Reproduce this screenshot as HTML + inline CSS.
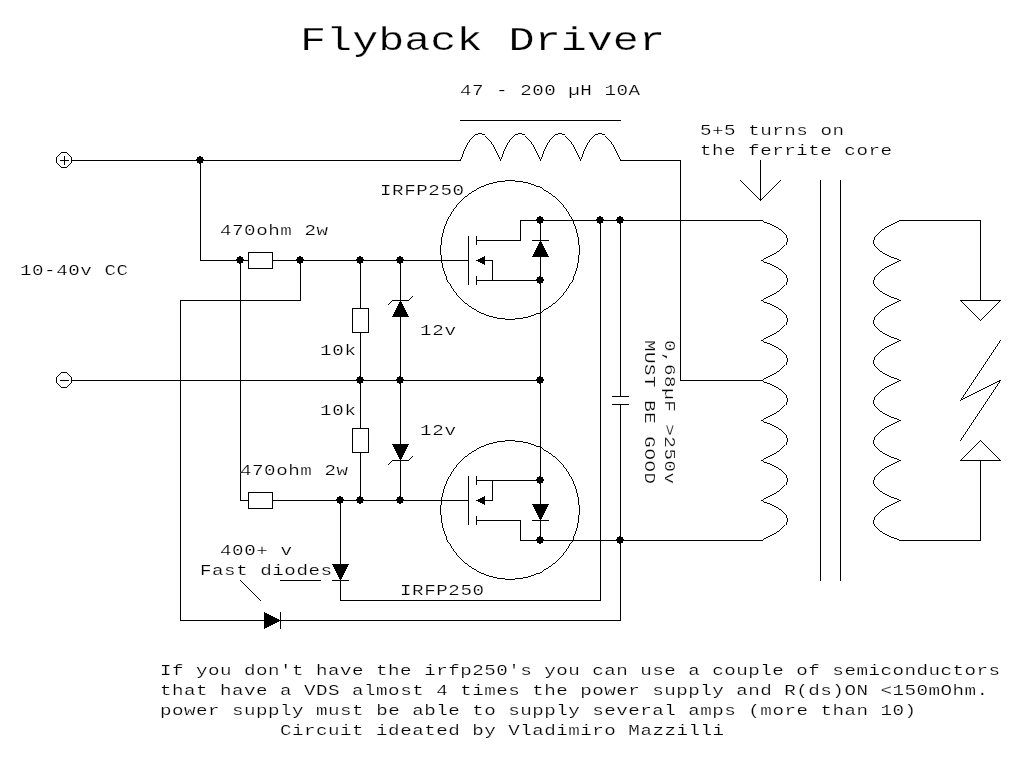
<!DOCTYPE html>
<html lang="en">
<head>
<meta charset="utf-8">
<title>Flyback Driver</title>
<style>
html,body{margin:0;padding:0;background:#fff;}
body{width:1032px;height:760px;overflow:hidden;}
svg{display:block;}
text{font-family:"Liberation Mono","DejaVu Sans Mono",monospace;fill:#000;}
.t{font-size:15.5px;stroke:#fff;stroke-width:0.2px;}
.title{font-size:33px;stroke:#fff;stroke-width:0.25px;}
.w{fill:none;stroke:#000;stroke-width:1;stroke-linecap:square;stroke-linejoin:miter;}
.c{fill:none;stroke:#000;stroke-width:0.99;}
.f{fill:#000;stroke:none;}
</style>
</head>
<body>
<svg width="1032" height="760" viewBox="0 0 1032 760">
<rect width="1032" height="760" fill="#fff"/>

<!-- WIRES -->
<g class="w" shape-rendering="crispEdges" transform="translate(0.5,0.5)">
<!-- top rail -->
<path d="M72 160H460"/>
<path d="M620 160H680V380H760"/>
<path d="M460 120H620"/>
<!-- left drops -->
<path d="M200 160V260H248"/>
<path d="M272 260H468"/>
<path d="M240 260V500H248"/>
<path d="M272 500H468"/>
<path d="M300 260V300H180V620H264"/>
<path d="M280 620H620V404"/>
<path d="M620 396V220"/>
<path d="M612 396H628M612 404H628"/>
<!-- ground rail -->
<path d="M72 380H540"/>
<!-- 10k / zener columns -->
<path d="M360 260V308M360 332V428M360 452V500"/>
<path d="M400 260V500"/>
<!-- fast diode 1 branch -->
<path d="M340 500V600H600V220"/>
<!-- resistors -->
<rect x="248" y="252" width="24" height="16"/>
<rect x="248" y="492" width="24" height="16"/>
<rect x="352" y="308" width="16" height="24"/>
<rect x="352" y="428" width="16" height="24"/>
<!-- mosfet 1 -->
<path d="M468 236V284M476 236V244M476 276V284"/>
<path d="M476 240H520V220H760"/>
<path d="M485 260H492V280M476 280H540"/>
<path d="M540 220V540"/>
<path d="M532 240H548"/>
<!-- mosfet 2 -->
<path d="M468 476V524M476 476V484M476 516V524"/>
<path d="M476 520H520V540H760"/>
<path d="M485 500H492V480M476 480H540"/>
<path d="M532 520H548"/>
<!-- zener bars -->
<path d="M392 300H408"/>
<path d="M392 460H408"/>
<!-- fast diode bars -->
<path d="M332 580H348"/>
<path d="M280 612V628"/>
<!-- annotation lines -->
<path d="M280 580H320"/>
<!-- arrow -->
<path d="M760 160V200"/>
<!-- core -->
<path d="M820 180V580M840 180V580"/>
<!-- secondary -->
<path d="M900 220H980V300"/>
<path d="M960 300H1000"/>
<path d="M960 460H1000"/>
<path d="M980 460V540H900"/>
</g>

<!-- CURVES -->
<g class="c" shape-rendering="crispEdges" transform="translate(0.5,0.5)">
<path d="M1000.39 339.42L959.61 400.58M959.37 400.31L1000.63 379.69M1000.39 379.42L959.61 440.58"/>
<path d="M739.9 179.9L760.9 200.9M759.9 200.1L780.9 179.1"/>
<path d="M979.9 320.1L1000.9 299.1M959.9 299.9L980.9 320.9"/>
<path d="M979.9 439.9L1000.9 460.9M959.9 460.1L980.9 439.1"/>
<path d="M387.9 304.1L392.9 299.1M407.9 300.1L412.9 295.1"/>
<path d="M387.9 464.1L392.9 459.1M407.9 460.1L412.9 455.1"/>
<path d="M239.9 579.9L260.9 600.9"/>
<circle cx="509.5" cy="249.5" r="69.25"/>
<circle cx="509.5" cy="509.5" r="69.25"/>
<circle cx="63.5" cy="159.5" r="7.5"/>
<circle cx="63.5" cy="379.5" r="7.5"/>
<path d="M460 160Q478 106 500 160Q518 106 540 160Q558 106 580 160Q598 106 620 160"/>
<path d="M760 220Q814 238 760 260Q814 278 760 300Q814 318 760 340Q814 358 760 380Q814 398 760 420Q814 438 760 460Q814 478 760 500Q814 518 760 540"/>
<path d="M900 220Q846 242 900 260Q846 282 900 300Q846 322 900 340Q846 362 900 380Q846 402 900 420Q846 442 900 460Q846 482 900 500Q846 522 900 540"/>
</g>
<g class="w" shape-rendering="crispEdges" transform="translate(0.5,0.5)">
<path d="M60 160H68M64 156V164"/>
<path d="M60 380H68"/>
</g>

<!-- FILLED -->
<g class="f" shape-rendering="crispEdges">
<path transform="translate(200,160)" d="M-1-4h2v1h2v2h1v2h-1v2h-2v1h-2v-1h-2v-2h-1v-2h1v-2h2z"/>
<path transform="translate(240,260)" d="M-1-4h2v1h2v2h1v2h-1v2h-2v1h-2v-1h-2v-2h-1v-2h1v-2h2z"/>
<path transform="translate(300,260)" d="M-1-4h2v1h2v2h1v2h-1v2h-2v1h-2v-1h-2v-2h-1v-2h1v-2h2z"/>
<path transform="translate(360,260)" d="M-1-4h2v1h2v2h1v2h-1v2h-2v1h-2v-1h-2v-2h-1v-2h1v-2h2z"/>
<path transform="translate(400,260)" d="M-1-4h2v1h2v2h1v2h-1v2h-2v1h-2v-1h-2v-2h-1v-2h1v-2h2z"/>
<path transform="translate(360,380)" d="M-1-4h2v1h2v2h1v2h-1v2h-2v1h-2v-1h-2v-2h-1v-2h1v-2h2z"/>
<path transform="translate(400,380)" d="M-1-4h2v1h2v2h1v2h-1v2h-2v1h-2v-1h-2v-2h-1v-2h1v-2h2z"/>
<path transform="translate(540,380)" d="M-1-4h2v1h2v2h1v2h-1v2h-2v1h-2v-1h-2v-2h-1v-2h1v-2h2z"/>
<path transform="translate(340,500)" d="M-1-4h2v1h2v2h1v2h-1v2h-2v1h-2v-1h-2v-2h-1v-2h1v-2h2z"/>
<path transform="translate(360,500)" d="M-1-4h2v1h2v2h1v2h-1v2h-2v1h-2v-1h-2v-2h-1v-2h1v-2h2z"/>
<path transform="translate(400,500)" d="M-1-4h2v1h2v2h1v2h-1v2h-2v1h-2v-1h-2v-2h-1v-2h1v-2h2z"/>
<path transform="translate(540,220)" d="M-1-4h2v1h2v2h1v2h-1v2h-2v1h-2v-1h-2v-2h-1v-2h1v-2h2z"/>
<path transform="translate(600,220)" d="M-1-4h2v1h2v2h1v2h-1v2h-2v1h-2v-1h-2v-2h-1v-2h1v-2h2z"/>
<path transform="translate(620,220)" d="M-1-4h2v1h2v2h1v2h-1v2h-2v1h-2v-1h-2v-2h-1v-2h1v-2h2z"/>
<path transform="translate(540,280)" d="M-1-4h2v1h2v2h1v2h-1v2h-2v1h-2v-1h-2v-2h-1v-2h1v-2h2z"/>
<path transform="translate(540,480)" d="M-1-4h2v1h2v2h1v2h-1v2h-2v1h-2v-1h-2v-2h-1v-2h1v-2h2z"/>
<path transform="translate(540,540)" d="M-1-4h2v1h2v2h1v2h-1v2h-2v1h-2v-1h-2v-2h-1v-2h1v-2h2z"/>
<path transform="translate(620,540)" d="M-1-4h2v1h2v2h1v2h-1v2h-2v1h-2v-1h-2v-2h-1v-2h1v-2h2z"/>
<!-- mosfet arrows -->
<polygon points="476,260.5 485,256 485,265"/>
<polygon points="476,500.5 485,496 485,505"/>
<!-- body diodes -->
<polygon points="540.5,240 532,257 549,257"/>
<polygon points="540.5,521 532,504 549,504"/>
<!-- zeners -->
<polygon points="400.5,300 392,317 409,317"/>
<polygon points="400.5,461 392,444 409,444"/>
<!-- fast diodes -->
<polygon points="340.5,581 332,564 349,564"/>
<polygon points="281,620.5 264,612 264,629"/>
</g>

<!-- TEXT -->
<g style="opacity:0.999">
<text class="title" x="300" y="50" textLength="365" lengthAdjust="spacingAndGlyphs">Flyback Driver</text>
<text class="t" transform="translate(460,95) scale(1.24,1)" textLength="145.16" lengthAdjust="spacing" xml:space="preserve">47 - 200 µH 10A</text>
<text class="t" transform="translate(700,135) scale(1.24,1)" textLength="116.13" lengthAdjust="spacing" xml:space="preserve">5+5 turns on</text>
<text class="t" transform="translate(700,155) scale(1.24,1)" textLength="154.84" lengthAdjust="spacing" xml:space="preserve">the ferrite core</text>
<text class="t" transform="translate(380,195) scale(1.24,1)" textLength="67.74" lengthAdjust="spacing" xml:space="preserve">IRFP250</text>
<text class="t" transform="translate(220,235) scale(1.24,1)" textLength="87.10" lengthAdjust="spacing" xml:space="preserve">470ohm 2w</text>
<text class="t" transform="translate(20,275) scale(1.24,1)" textLength="87.10" lengthAdjust="spacing" xml:space="preserve">10-40v CC</text>
<text class="t" transform="translate(420,335) scale(1.24,1)" textLength="29.03" lengthAdjust="spacing" xml:space="preserve">12v</text>
<text class="t" transform="translate(320,355) scale(1.24,1)" textLength="29.03" lengthAdjust="spacing" xml:space="preserve">10k</text>
<text class="t" transform="translate(320,415) scale(1.24,1)" textLength="29.03" lengthAdjust="spacing" xml:space="preserve">10k</text>
<text class="t" transform="translate(420,435) scale(1.24,1)" textLength="29.03" lengthAdjust="spacing" xml:space="preserve">12v</text>
<text class="t" transform="translate(240,475) scale(1.24,1)" textLength="87.10" lengthAdjust="spacing" xml:space="preserve">470ohm 2w</text>
<text class="t" transform="translate(220,555) scale(1.24,1)" textLength="58.06" lengthAdjust="spacing" xml:space="preserve">400+ v</text>
<text class="t" transform="translate(200,575) scale(1.24,1)" textLength="106.45" lengthAdjust="spacing" xml:space="preserve">Fast diodes</text>
<text class="t" transform="translate(400,595) scale(1.24,1)" textLength="67.74" lengthAdjust="spacing" xml:space="preserve">IRFP250</text>
<text class="t" transform="translate(160,675) scale(1.24,1)" textLength="677.42" lengthAdjust="spacing" xml:space="preserve">If you don't have the irfp250's you can use a couple of semiconductors</text>
<text class="t" transform="translate(160,695) scale(1.24,1)" textLength="667.74" lengthAdjust="spacing" xml:space="preserve">that have a VDS almost 4 times the power supply and R(ds)ON &lt;150mOhm.</text>
<text class="t" transform="translate(160,715) scale(1.24,1)" textLength="609.68" lengthAdjust="spacing" xml:space="preserve">power supply must be able to supply several amps (more than 10)</text>
<text class="t" transform="translate(280,735) scale(1.24,1)" textLength="358.06" lengthAdjust="spacing" xml:space="preserve">Circuit ideated by Vladimiro Mazzilli</text>
<text class="t" transform="translate(665,340) rotate(90) scale(1.24,1)" textLength="116.13" lengthAdjust="spacing" xml:space="preserve">0,68µF &gt;250v</text>
<text class="t" transform="translate(645,340) rotate(90) scale(1.24,1)" textLength="116.13" lengthAdjust="spacing" xml:space="preserve">MUST BE GOOD</text>
</g>
</svg>
</body>
</html>
